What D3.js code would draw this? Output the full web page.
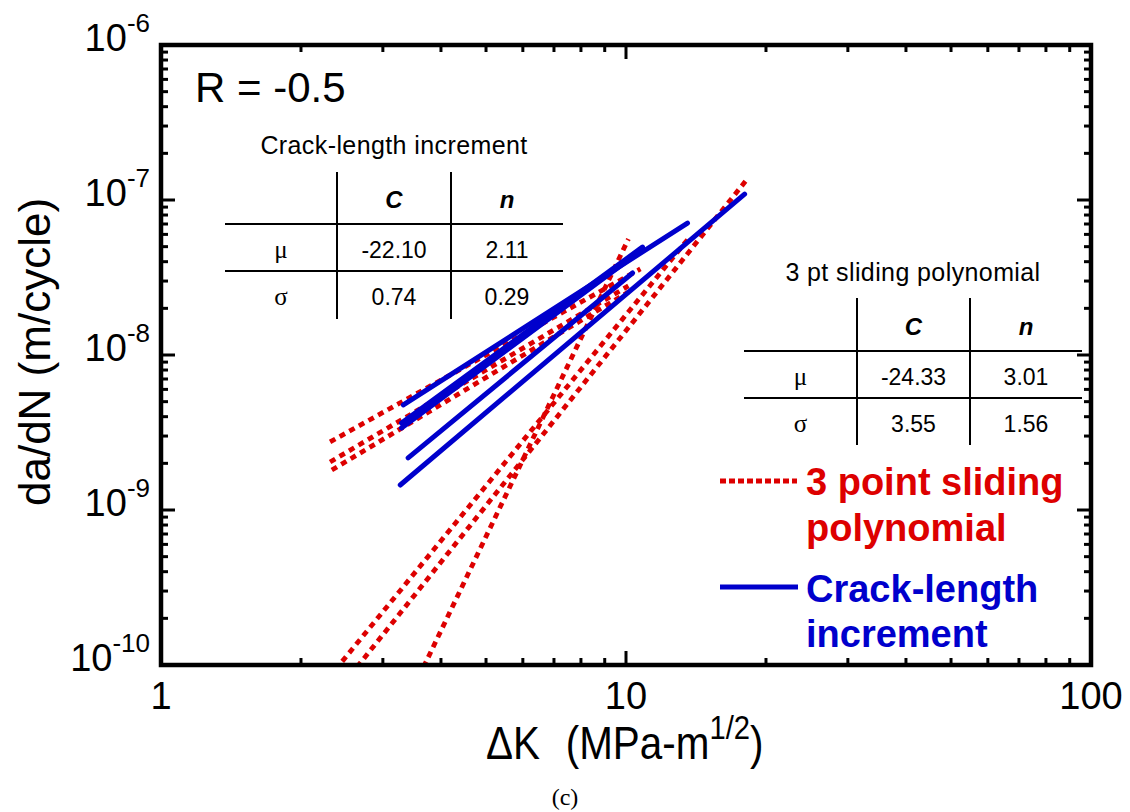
<!DOCTYPE html>
<html>
<head>
<meta charset="utf-8">
<script src="https://cdn.jsdelivr.net/npm/d3@7"></script>
<style>
  body { margin: 0; background: #fff; }
  svg { display: block; }
</style>
</head>
<body>
<svg id="chart" width="1130" height="812"></svg>
<script>
// Fatigue crack growth rate curves, R = -0.5.
// Each curve: [ΔK (MPa·m^1/2), da/dN (m/cycle)] points.
const slidingPolynomial = [
  [[2.31, 2.75e-9], [10.74, 3.59e-8]],
  [[2.31, 2.04e-9], [10.12, 2.79e-8]],
  [[2.33, 1.81e-9], [10.12, 2.55e-8]],
  [[2.37, 9.3e-11], [13.77, 5.86e-8]],
  [[2.64, 9.7e-11], [18.17, 1.35e-7]],
  [[3.67, 9.7e-11], [10.12, 5.6e-8]]
];
const crackLengthIncrement = [
  [[3.32, 4.76e-9], [13.56, 7.1e-8]],
  [[3.29, 3.64e-9], [10.85, 4.97e-8]],
  [[3.29, 3.38e-9], [9.98, 3.98e-8]],
  [[3.40, 2.17e-9], [10.33, 3.38e-8]],
  [[3.27, 1.45e-9], [17.99, 1.09e-7]]
];

// Summary statistics of the Paris-law constants (ln form)
const statRows = ["μ", "σ"];
const statCols = ["C", "n"];
const crackStats = [["-22.10", "2.11"], ["0.74", "0.29"]];
const polyStats = [["-24.33", "3.01"], ["3.55", "1.56"]];

const xDomain = [1, 100];
const yDomain = [1e-10, 1e-6];
const xTickLabels = ["1", "10", "100"];
const yTickExponents = ["-10", "-9", "-8", "-7", "-6"];

const RED = "#dd0000", BLUE = "#0000cc";
const svg = d3.select("#chart");
const L = 161, R = 1091, T = 45, B = 665;

const x = d3.scaleLog().domain(xDomain).range([L, R]);
const y = d3.scaleLog().domain(yDomain).range([B, T]);

svg.append("defs").append("clipPath").attr("id", "plotClip")
  .append("rect").attr("x", L).attr("y", T).attr("width", R - L).attr("height", B - T);

const line = d3.line().x(d => x(d[0])).y(d => y(d[1]));
const plot = svg.append("g").attr("clip-path", "url(#plotClip)");

plot.selectAll("path.poly").data(slidingPolynomial).join("path")
  .attr("class", "poly")
  .attr("d", line)
  .attr("fill", "none")
  .attr("stroke", RED)
  .attr("stroke-width", 4.8)
  .attr("stroke-dasharray", "6 5");

plot.selectAll("path.incr").data(crackLengthIncrement).join("path")
  .attr("class", "incr")
  .attr("d", line)
  .attr("fill", "none")
  .attr("stroke", BLUE)
  .attr("stroke-width", 5)
  .attr("stroke-linecap", "round");

// ticks on all four sides, pointing inward
const isMajor = v => Math.abs(Math.log10(v) - Math.round(Math.log10(v))) < 1e-9;
const ticks = svg.append("g").attr("stroke", "#000").attr("stroke-width", 3);
x.ticks().forEach(v => {
  const len = isMajor(v) ? 14 : 7;
  const px = x(v);
  ticks.append("line").attr("x1", px).attr("x2", px).attr("y1", B).attr("y2", B - len);
  ticks.append("line").attr("x1", px).attr("x2", px).attr("y1", T).attr("y2", T + len);
});
y.ticks().forEach(v => {
  const len = isMajor(v) ? 14 : 7;
  const py = y(v);
  ticks.append("line").attr("y1", py).attr("y2", py).attr("x1", L).attr("x2", L + len);
  ticks.append("line").attr("y1", py).attr("y2", py).attr("x1", R).attr("x2", R - len);
});

svg.append("rect").attr("x", L).attr("y", T).attr("width", R - L).attr("height", B - T)
  .attr("fill", "none").attr("stroke", "#000").attr("stroke-width", 4.5);

const SANS = "'Liberation Sans', Arial, sans-serif";

// x tick labels
const xMajors = x.ticks().filter(isMajor);
svg.append("g").selectAll("text").data(xMajors).join("text")
  .attr("x", d => x(d)).attr("y", 709)
  .attr("text-anchor", "middle")
  .attr("font-family", SANS).attr("font-size", 38)
  .text((d, i) => xTickLabels[i]);

// y tick labels: 10 with superscript exponent
const yMajors = y.ticks().filter(isMajor);
const yl = svg.append("g").attr("font-family", SANS);
yMajors.forEach((v, i) => {
  const t = yl.append("text").attr("x", 150).attr("y", y(v) + 6)
    .attr("text-anchor", "end").attr("font-size", 38);
  t.append("tspan").text("10");
  t.append("tspan").attr("font-size", 26).attr("dy", -19).text(yTickExponents[i]);
});

// x axis title in a condensed face
const xt = svg.append("g").attr("transform", "translate(486,759) scale(0.86,1)")
  .append("text").attr("x", 0).attr("y", 0)
  .attr("font-family", SANS).attr("font-size", 47);
xt.append("tspan").text("ΔK");
xt.append("tspan").attr("dx", 30).text("(MPa-m");
xt.append("tspan").attr("font-size", 34).attr("dy", -20).text("1/2");
xt.append("tspan").attr("dy", 20).text(")");

svg.append("text").attr("transform", "translate(50,352) rotate(-90)")
  .attr("text-anchor", "middle").attr("font-family", SANS).attr("font-size", 44)
  .text("da/dN  (m/cycle)");

svg.append("text").attr("x", 565).attr("y", 805).attr("text-anchor", "middle")
  .attr("font-family", "'Liberation Serif', 'Times New Roman', serif").attr("font-size", 24)
  .text("(c)");

svg.append("text").attr("x", 195).attr("y", 102)
  .attr("font-family", SANS).attr("font-size", 42).text("R = -0.5");

// statistics tables
function statTable(title, stats, x0, x1, x2, x3, yTitle, yTop, yH1, yH2, yBot) {
  const g = svg.append("g");
  g.append("text").attr("x", (x0 + x3) / 2).attr("y", yTitle).attr("text-anchor", "middle")
    .attr("font-family", SANS).attr("font-size", 25).attr("letter-spacing", 0.4).text(title);
  const ls = g.append("g").attr("stroke", "#000").attr("stroke-width", 2);
  [yH1, yH2].forEach(h => ls.append("line").attr("x1", x0).attr("x2", x3).attr("y1", h).attr("y2", h));
  [x1, x2].forEach(v => ls.append("line").attr("x1", v).attr("x2", v).attr("y1", yTop).attr("y2", yBot));
  const colC = [(x1 + x2) / 2, (x2 + x3) / 2];
  statCols.forEach((c, j) => g.append("text").attr("x", colC[j]).attr("y", yH1 - 16)
    .attr("text-anchor", "middle").attr("font-family", SANS).attr("font-size", 24)
    .attr("font-weight", "bold").attr("font-style", "italic").text(c));
  const rowY = [yH2 - 13, yH2 + 34];
  statRows.forEach((r, i) => {
    g.append("text").attr("x", (x0 + x1) / 2).attr("y", rowY[i]).attr("text-anchor", "middle")
      .attr("font-family", "'Liberation Serif', serif").attr("font-size", 25).text(r);
    stats[i].forEach((s, j) => g.append("text").attr("x", colC[j]).attr("y", rowY[i])
      .attr("text-anchor", "middle").attr("font-family", SANS).attr("font-size", 23).text(s));
  });
}
statTable("Crack-length increment", crackStats, 225, 337, 451, 563, 154, 172, 224, 271, 319);
statTable("3 pt sliding polynomial", polyStats, 744, 857, 970, 1082, 281, 298, 351, 398, 445);

// legend
const lg = svg.append("g");
lg.append("line").attr("x1", 720).attr("x2", 797).attr("y1", 481).attr("y2", 481)
  .attr("stroke", RED).attr("stroke-width", 5).attr("stroke-dasharray", "6 3");
lg.append("line").attr("x1", 720).attr("x2", 798).attr("y1", 587).attr("y2", 587)
  .attr("stroke", BLUE).attr("stroke-width", 5);
const legendText = [
  ["3 point sliding", 495, RED], ["polynomial", 541, RED],
  ["Crack-length", 602, BLUE], ["increment", 647, BLUE]
];
lg.selectAll("text").data(legendText).join("text")
  .attr("x", 806).attr("y", d => d[1]).attr("fill", d => d[2])
  .attr("font-family", SANS).attr("font-weight", "bold").attr("font-size", 38)
  .text(d => d[0]);
</script>
</body>
</html>
